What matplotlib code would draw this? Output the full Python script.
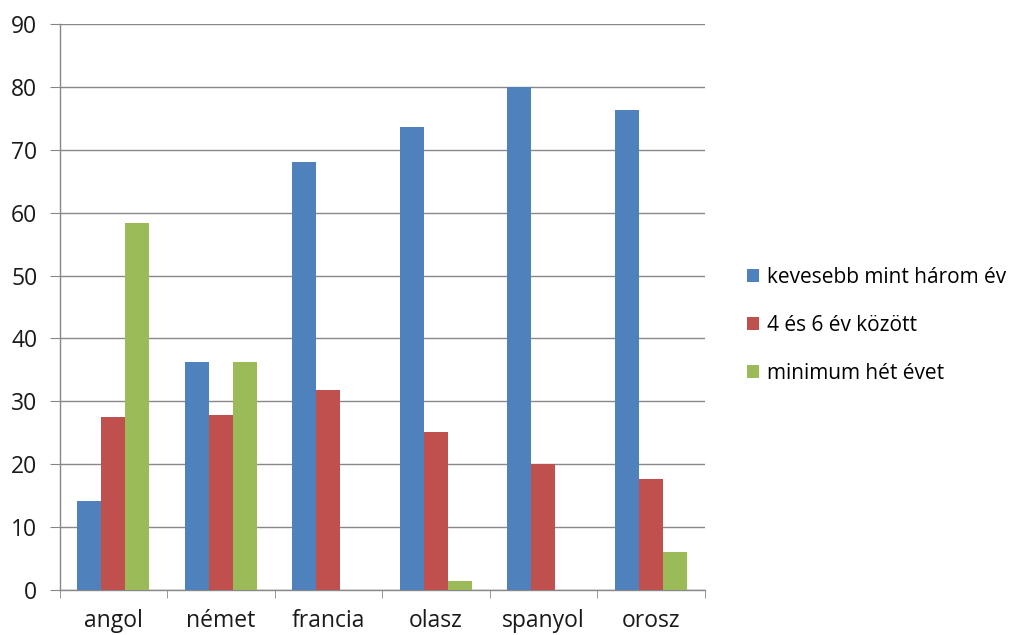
import numpy as np
import matplotlib.pyplot as plt

# nyelvek és a tanulási idő szerinti megoszlás (%)
nyelvek = ['angol', 'német', 'francia', 'olasz', 'spanyol', 'orosz']
kevesebb_3 = [14.2, 36.2, 68.1, 73.6, 80.0, 76.4]
kozott_4_6 = [27.5, 27.9, 31.8, 25.1, 20.0, 17.6]
min_7 = [58.3, 36.2, 0.0, 1.4, 0.0, 6.0]
sorozat_nevek = ['kevesebb mint három év', '4 és 6 év között', 'minimum hét évet']
szinek = ['#4F81BD', '#C0504D', '#9BBB59']

plt.rcParams['font.family'] = ['Open Sans', 'DejaVu Sans']

fig = plt.figure(figsize=(10.27, 6.35), dpi=100)
ax = fig.add_axes([0.058, 0.071, 0.628, 0.891])

x = np.arange(len(nyelvek))
w = 1 / 4.5
for i, (vals, nev, c) in enumerate(zip([kevesebb_3, kozott_4_6, min_7], sorozat_nevek, szinek)):
    ax.bar(x + (i - 1) * w, vals, width=w, color=c, label=nev, zorder=3)

ax.set_xlim(-0.5, len(nyelvek) - 0.5)
ax.set_ylim(0, 90)
ax.set_yticks(range(0, 91, 10))
ax.set_xticks(x)
ax.set_xticklabels(nyelvek)
# osztásjelek a kategóriák határán
ax.set_xticks(np.arange(-0.5, len(nyelvek), 1), minor=True)
ax.tick_params(axis='x', which='major', length=0, pad=14, labelsize=16.5, colors='#1a1a1a')
ax.tick_params(axis='x', which='minor', length=6, color='#888888')
ax.tick_params(axis='y', length=7, pad=9, labelsize=16.5, colors='#1a1a1a')
ax.tick_params(axis='y', color='#888888')

ax.grid(axis='y', color='#888888', linewidth=1, zorder=0)
for s in ['top', 'right']:
    ax.spines[s].set_visible(False)
for s in ['left', 'bottom']:
    ax.spines[s].set_color('#888888')
    ax.spines[s].set_linewidth(1)

fig.legend(loc='center left', bbox_to_anchor=(0.719, 0.488), frameon=False,
           fontsize=15, handlelength=0.6, handleheight=0.6, handletextpad=0.35,
           labelspacing=1.3, borderaxespad=0)

fig.savefig('out.png', dpi=100)
